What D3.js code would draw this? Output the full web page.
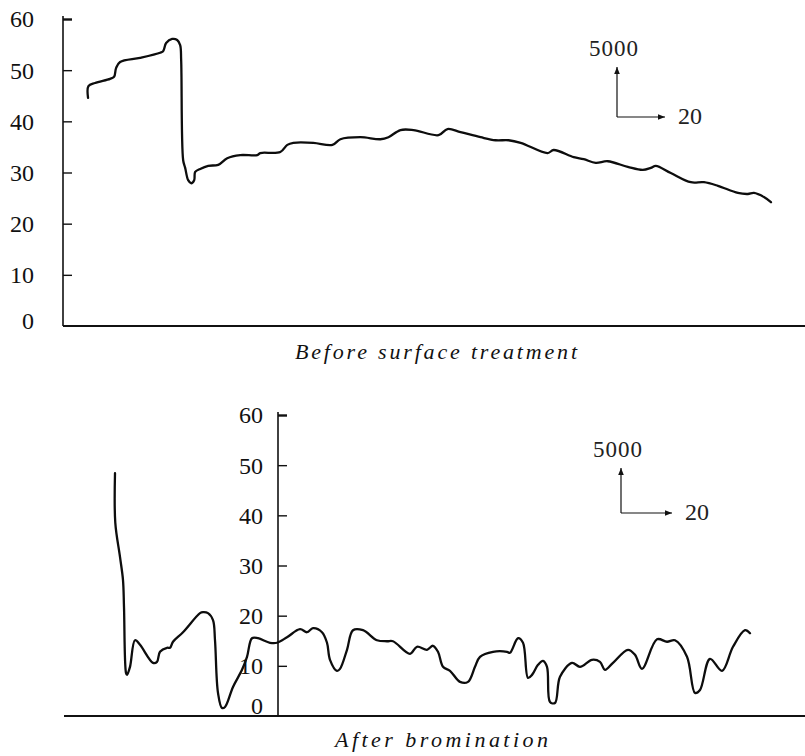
<!DOCTYPE html>
<html>
<head>
<meta charset="utf-8">
<script src="https://cdn.jsdelivr.net/npm/d3@7"></script>
<style>
  html, body { margin: 0; padding: 0; background: #fff; }
  svg { display: block; }
</style>
</head>
<body>
<svg id="chart" width="805" height="756" font-family="'Liberation Serif', 'Times New Roman', Times, serif"></svg>
<script>
// Tick labels shared by both panels
const yTicks = [0, 10, 20, 30, 40, 50, 60];

// Trace before surface treatment: [displacement, force]
const beforeTrace = [
  [25, 44.6], [25.4, 46.9], [32, 47.5], [47, 48.3], [51, 48.7], [53, 50.4],
  [57, 51.6], [77, 52.4], [97, 53.4], [100, 53.7], [103, 55.3], [109, 56.1],
  [114, 55.9], [117, 54.9], [118, 52], [120, 32.4], [122, 30.9], [125, 28.5],
  [128, 27.9], [131, 28.5], [132, 30.1], [137, 30.7], [145, 31.3], [155, 31.5],
  [164, 32.8], [177, 33.4], [194, 33.4], [197, 33.8], [217, 34.0], [224, 35.4],
  [230, 35.8], [250, 35.8], [269, 35.4], [277, 36.5], [297, 36.9], [317, 36.5],
  [325, 36.9], [337, 38.3], [350, 38.3], [375, 37.3], [384, 38.5], [397, 37.9],
  [417, 36.9], [432, 36.3], [445, 36.3], [457, 35.8], [484, 33.8], [490, 34.4],
  [510, 33.0], [520, 32.6], [532, 31.9], [544, 32.2], [564, 31.1], [579, 30.5],
  [587, 30.9], [592, 31.3], [607, 29.9], [627, 28.1], [640, 28.1], [654, 27.4],
  [674, 26.0], [684, 25.8], [690, 26.0], [700, 25.2], [707, 24.2]
];

// Trace after bromination: [displacement, force]
const afterTrace = [
  [51, 48.4], [51.3, 38.5], [56, 31.7], [59, 27.1], [60, 21.7], [62, 8.6],
  [63, 8.2], [66, 9.8], [71, 15.1], [76, 14.2], [89, 10.6], [93, 10.8],
  [96, 12.8], [103, 13.6], [106, 13.6], [109, 14.8], [119, 16.7], [136, 20.5],
  [139, 20.7], [144, 20.5], [149, 19.1], [151, 15.1], [154, 4.6], [158, 1.6],
  [161, 1.8], [169, 5.8], [178, 9.2], [183, 11.8], [188, 15.5], [194, 15.5],
  [206, 14.6], [213, 14.6], [223, 15.7], [236, 17.3], [243, 16.7], [249, 17.5],
  [258, 16.7], [263, 14.6], [266, 11.2], [273, 9.0], [276, 9.4], [283, 13.2],
  [289, 17.1], [299, 17.1], [313, 15.1], [323, 14.9], [329, 14.9], [346, 12.4],
  [353, 13.8], [363, 13.2], [369, 14.0], [374, 12.8], [379, 9.8], [386, 9.0],
  [396, 6.8], [404, 6.8], [411, 9.8], [416, 11.8], [429, 12.8], [443, 12.8],
  [446, 12.6], [454, 15.5], [459, 14.6], [464, 7.6], [468, 8.2], [474, 10.2],
  [479, 11.0], [483, 9.8], [486, 2.8], [491, 2.6], [496, 7.8], [508, 10.6],
  [516, 9.8], [528, 11.2], [536, 10.8], [541, 9.2], [549, 10.6], [564, 13.2],
  [571, 12.2], [578, 9.4], [593, 15.3], [603, 14.8], [611, 15.1], [623, 11.8],
  [631, 4.6], [636, 5.2], [646, 11.4], [658, 9.0], [669, 13.8], [681, 17.1],
  [686, 16.5]
];

// Scale-bar labels and panel captions
const scaleLabels = ["5000", "20"];
const captions = ["Before surface treatment", "After bromination"];

const SERIF = "'Liberation Serif', 'Times New Roman', Times, serif";
const svg = d3.select("#chart");

svg.append("defs").append("marker")
  .attr("id", "arrow")
  .attr("viewBox", "0 0 10 10")
  .attr("refX", 10).attr("refY", 5)
  .attr("markerWidth", 9).attr("markerHeight", 7)
  .attr("markerUnits", "userSpaceOnUse")
  .attr("orient", "auto")
  .append("path")
  .attr("d", "M0,1 L10,5 L0,9 Z")
  .attr("fill", "#111");

function panel(cfg) {
  const g = svg.append("g");
  const x = d3.scaleLinear().domain([0, 741]).range([cfg.xLeft, 805]);
  const y = d3.scaleLinear().domain([0, 60]).range([cfg.yBottom, cfg.yTop]);

  // baseline
  g.append("line")
    .attr("x1", cfg.xLeft).attr("x2", 805)
    .attr("y1", y(0)).attr("y2", y(0))
    .attr("stroke", "#111").attr("stroke-width", 1.8);

  // vertical axis with inward ticks
  const axis = d3.axisRight(y).tickValues(yTicks).tickSize(9).tickFormat("");
  const ag = g.append("g")
    .attr("transform", `translate(${cfg.axisX},0)`)
    .call(axis);
  ag.select(".domain")
    .attr("d", `M0,${y(60) - 3}V${y(0)}`)
    .attr("stroke", "#111").attr("stroke-width", 1.6);
  ag.selectAll(".tick line")
    .attr("stroke", "#111")
    .attr("stroke-width", d => d === 60 ? 2.4 : 1.4);
  ag.selectAll(".tick").filter(d => d === 0).select("line").remove();

  // tick labels
  g.selectAll("text.ylab")
    .data(yTicks)
    .enter().append("text")
    .attr("class", "ylab")
    .attr("x", cfg.labelRight)
    .attr("y", d => y(d) - (d === 0 ? cfg.zeroLift : 0))
    .attr("dy", "0.35em")
    .attr("text-anchor", "end")
    .style("font-family", SERIF)
    .style("font-size", "24px")
    .style("fill", "#111")
    .text(d => d);

  // trace
  const line = d3.line()
    .x(d => x(d[0])).y(d => y(d[1]))
    .curve(d3.curveCatmullRom.alpha(0.5));
  g.append("path")
    .datum(cfg.trace)
    .attr("d", line)
    .attr("fill", "none")
    .attr("stroke", "#0d0d0d")
    .attr("stroke-width", 2.3)
    .attr("stroke-linejoin", "round")
    .attr("stroke-linecap", "round");

  // scale bar: vertical and horizontal arrows
  const s = cfg.scale;
  g.append("line")
    .attr("x1", s.x).attr("y1", s.y)
    .attr("x2", s.x).attr("y2", s.y - s.up)
    .attr("stroke", "#111").attr("stroke-width", 1.2)
    .attr("marker-end", "url(#arrow)");
  g.append("line")
    .attr("x1", s.x).attr("y1", s.y)
    .attr("x2", s.x + s.right).attr("y2", s.y)
    .attr("stroke", "#111").attr("stroke-width", 1.2)
    .attr("marker-end", "url(#arrow)");
  g.append("text")
    .attr("x", s.x - 3).attr("y", s.y - s.up - 11)
    .attr("text-anchor", "middle")
    .style("font-family", SERIF)
    .style("font-size", "23px")
    .style("letter-spacing", "1px")
    .style("fill", "#222")
    .text(scaleLabels[0]);
  g.append("text")
    .attr("x", s.x + s.right + 13).attr("y", s.y + 7)
    .style("font-family", SERIF)
    .style("font-size", "24px")
    .style("fill", "#222")
    .text(scaleLabels[1]);

  // caption
  g.append("text")
    .attr("x", cfg.cap[0]).attr("y", cfg.cap[2])
    .attr("textLength", cfg.cap[1] - cfg.cap[0])
    .attr("lengthAdjust", "spacing")
    .style("font-family", SERIF)
    .style("font-size", "22px")
    .style("font-style", "italic")
    .style("fill", "#111")
    .text(cfg.caption);
}

panel({
  trace: beforeTrace, caption: captions[0],
  xLeft: 63, axisX: 63, yTop: 19, yBottom: 326,
  labelRight: 34, zeroLift: 5,
  scale: { x: 617, y: 117, up: 50, right: 48 },
  cap: [295, 577, 359]
});

panel({
  trace: afterTrace, caption: captions[1],
  xLeft: 64, axisX: 278, yTop: 415, yBottom: 716,
  labelRight: 263, zeroLift: 10,
  scale: { x: 621, y: 513, up: 45, right: 51 },
  cap: [335, 548, 747]
});
</script>
</body>
</html>
